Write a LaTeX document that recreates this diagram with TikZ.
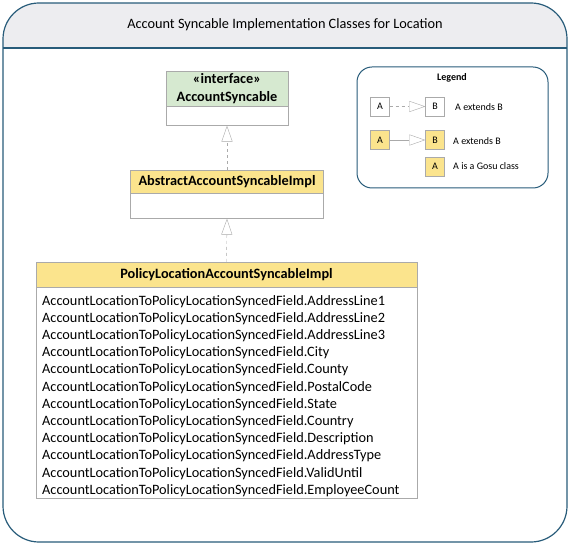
\documentclass[tikz,border=0pt]{standalone}
\usepackage{fontspec}
\setmainfont{Carlito}
\usetikzlibrary{positioning,arrows.meta}

\definecolor{frameblue}{RGB}{40,92,122}
\definecolor{hdrgray}{RGB}{237,237,240}
\definecolor{ifgreen}{RGB}{214,233,208}
\definecolor{gosuyellow}{RGB}{251,228,141}
\definecolor{boxgray}{RGB}{170,170,170}

\begin{document}
\begin{tikzpicture}[
    x=1pt, y=-1pt,
    font=\fontsize{14.3}{17}\selectfont,
    hdr/.style={draw=boxgray, inner sep=2pt, align=center,
                font=\fontsize{14.3}{18}\selectfont\bfseries},
    body/.style={draw=boxgray, fill=white, inner xsep=6pt, inner ysep=0pt, align=left},
    ext/.style={-{Triangle[open, length=16pt, width=11pt]}, draw=boxgray, dashed},
    extsolid/.style={-{Triangle[open, length=16pt, width=11pt]}, draw=boxgray},
    lgbox/.style={draw=boxgray, minimum size=19pt, inner sep=0pt, font=\fontsize{10}{12}\selectfont},
    lgtxt/.style={anchor=west, inner sep=0pt, font=\fontsize{10}{12}\selectfont}
  ]
  \useasboundingbox (0,0) rectangle (570,545);

  % frame and title band
  \begin{scope}
    \clip[rounded corners=36pt] (3,3) rectangle (567,542);
    \fill[white]   (3,3) rectangle (567,542);
    \fill[hdrgray] (3,3) rectangle (567,48);
  \end{scope}
  \draw[frameblue, line width=1.2pt, rounded corners=36pt] (3,3) rectangle (567,542);
  \draw[frameblue, line width=1.2pt] (3,48) -- (567,48);
  \node (title) at (285,25) {Account Syncable Implementation Classes for Location};

  % classes
  \node[hdr, fill=ifgreen, minimum width=122pt, minimum height=35pt] (ifaceH) at (227,88.5)
    {«interface»\\AccountSyncable};
  \node[body, minimum width=122pt, minimum height=19pt, below=0pt of ifaceH] (ifaceB) {};

  \node[hdr, fill=gosuyellow, minimum width=193pt, minimum height=23pt] (abstH) at (227,181.5)
    {AbstractAccountSyncableImpl};
  \node[body, minimum width=193pt, minimum height=25pt, below=0pt of abstH] (abstB) {};

  \node[hdr, fill=gosuyellow, minimum width=381pt, minimum height=25pt] (polH) at (226.5,274.5)
    {PolicyLocationAccountSyncableImpl};
  \node[body, minimum width=381pt, minimum height=211pt, below=0pt of polH] (polB) {};
  \node[anchor=north west, inner sep=0pt, align=left,
        font=\fontsize{14.3}{17.2}\selectfont] (polList) at (42,295)
    {AccountLocationToPolicyLocationSyncedField.AddressLine1\\
     AccountLocationToPolicyLocationSyncedField.AddressLine2\\
     AccountLocationToPolicyLocationSyncedField.AddressLine3\\
     AccountLocationToPolicyLocationSyncedField.City\\
     AccountLocationToPolicyLocationSyncedField.County\\
     AccountLocationToPolicyLocationSyncedField.PostalCode\\
     AccountLocationToPolicyLocationSyncedField.State\\
     AccountLocationToPolicyLocationSyncedField.Country\\
     AccountLocationToPolicyLocationSyncedField.Description\\
     AccountLocationToPolicyLocationSyncedField.AddressType\\
     AccountLocationToPolicyLocationSyncedField.ValidUntil\\
     AccountLocationToPolicyLocationSyncedField.EmployeeCount};

  \draw[ext] (abstH.north) -- (ifaceB.south);
  \draw[ext] (polH.north)  -- (abstB.south);

  % legend
  \node[draw=frameblue, line width=1pt, rounded corners=15pt,
        minimum width=191pt, minimum height=121pt] (legend) at (452.5,127.5) {};
  \node[font=\fontsize{10}{12}\selectfont\bfseries] (lgtitle) at (452,78) {Legend};

  \node[lgbox, fill=white] (lgA1) at (380,106.5) {A};
  \node[lgbox, fill=white] (lgB1) at (435,106.5) {B};
  \node[lgtxt] (lgT1) at (455,107) {A extends B};
  \draw[ext] (lgA1.east) -- (lgB1.west);

  \node[lgbox, fill=gosuyellow] (lgA2) at (380,140) {A};
  \node[lgbox, fill=gosuyellow] (lgB2) at (435,140) {B};
  \node[lgtxt] (lgT2) at (453,141) {A extends B};
  \draw[extsolid] (lgA2.east) -- (lgB2.west);

  \node[lgbox, fill=gosuyellow] (lgC) at (435,166.5) {A};
  \node[lgtxt] (lgT3) at (453,166.5) {A is a Gosu class};
\end{tikzpicture}
\end{document}
